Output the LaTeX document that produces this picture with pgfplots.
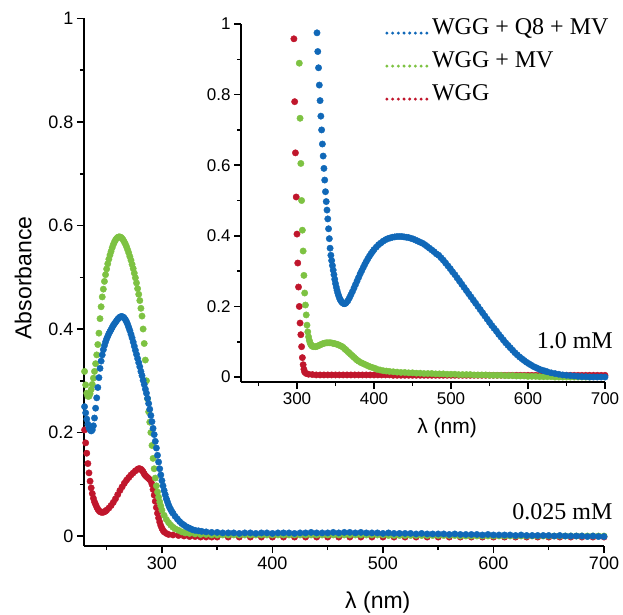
\documentclass[border=0pt]{standalone}
\usepackage{fontspec}
\setmainfont{Liberation Serif}
\setsansfont{Liberation Sans}
\usepackage{pgfplots}
\pgfplotsset{compat=1.18}
\usepackage{pgfplotstable}
\definecolor{cblue}{RGB}{16,104,184}
\definecolor{cgreen}{RGB}{125,194,66}
\definecolor{cred}{RGB}{192,22,44}

% ---------- main plot (0.025 mM) ----------
\pgfplotstableread[row sep=\\]{x y\\
230 0.250\\231 0.238\\232 0.226\\233 0.216\\234 0.209\\235 0.205\\236 0.203\\237 0.205\\238 0.213\\239 0.228\\
240 0.247\\241 0.267\\242 0.287\\243 0.306\\244 0.324\\245 0.338\\246 0.350\\247 0.360\\248 0.368\\249 0.375\\
250 0.381\\251 0.386\\252 0.391\\253 0.395\\254 0.399\\255 0.403\\256 0.407\\257 0.410\\258 0.413\\259 0.416\\
260 0.419\\261 0.421\\262 0.423\\263 0.424\\264 0.424\\265 0.423\\266 0.421\\267 0.418\\268 0.414\\269 0.409\\
270 0.403\\271 0.397\\272 0.390\\273 0.383\\274 0.375\\275 0.367\\276 0.359\\277 0.351\\278 0.343\\279 0.335\\
280 0.327\\281 0.318\\282 0.310\\283 0.301\\284 0.293\\285 0.284\\286 0.276\\287 0.266\\288 0.256\\289 0.245\\
290 0.233\\291 0.221\\292 0.208\\293 0.196\\294 0.183\\295 0.170\\296 0.156\\297 0.143\\298 0.130\\299 0.118\\
300 0.107\\301 0.097\\302 0.088\\303 0.080\\304 0.072\\305 0.066\\306 0.060\\307 0.055\\308 0.051\\309 0.047\\
310 0.044\\312 0.038\\314 0.033\\316 0.028\\318 0.024\\320 0.021\\322 0.018\\324 0.016\\326 0.014\\328 0.012\\
330 0.011\\333 0.010\\336 0.009\\340 0.008\\345 0.007\\350 0.007\\355 0.006\\360 0.006\\365 0.006\\370 0.005\\
375 0.006\\380 0.006\\385 0.005\\390 0.006\\395 0.006\\400 0.005\\405 0.006\\410 0.006\\415 0.006\\420 0.005\\
425 0.006\\430 0.006\\435 0.007\\440 0.006\\445 0.006\\450 0.006\\455 0.007\\460 0.006\\465 0.007\\470 0.007\\
475 0.006\\480 0.007\\485 0.006\\490 0.006\\495 0.006\\500 0.005\\505 0.006\\510 0.005\\515 0.005\\520 0.005\\
525 0.005\\530 0.004\\535 0.005\\540 0.004\\545 0.004\\550 0.004\\555 0.004\\560 0.003\\565 0.004\\570 0.003\\
575 0.003\\580 0.003\\585 0.003\\590 0.002\\595 0.003\\600 0.002\\605 0.002\\610 0.002\\615 0.002\\620 0.001\\
625 0.002\\630 0.001\\635 0.001\\640 0.001\\645 0.001\\650 0.001\\655 0.000\\660 0.001\\665 0.000\\670 0.000\\
675 0.000\\680 0.000\\685 -0.001\\690 0.000\\695 -0.001\\700 -0.001\\
}\mainblue

\pgfplotstableread[row sep=\\]{x y\\
230 0.318\\231 0.292\\232 0.276\\233 0.270\\234 0.270\\235 0.275\\236 0.283\\237 0.293\\238 0.305\\239 0.318\\
240 0.333\\241 0.350\\242 0.370\\243 0.392\\244 0.420\\245 0.443\\246 0.462\\247 0.477\\248 0.492\\249 0.505\\
250 0.516\\251 0.526\\252 0.535\\253 0.543\\254 0.550\\255 0.557\\256 0.563\\257 0.568\\258 0.572\\259 0.575\\
260 0.577\\261 0.578\\262 0.578\\263 0.577\\264 0.575\\265 0.572\\266 0.568\\267 0.564\\268 0.559\\269 0.553\\
270 0.547\\271 0.540\\272 0.533\\273 0.525\\274 0.517\\275 0.508\\276 0.499\\277 0.489\\278 0.478\\279 0.467\\
280 0.455\\281 0.440\\282 0.425\\283 0.400\\284 0.372\\285 0.340\\286 0.300\\287 0.265\\288 0.240\\289 0.220\\
290 0.200\\291 0.175\\292 0.150\\293 0.130\\294 0.112\\295 0.097\\296 0.085\\297 0.075\\298 0.066\\299 0.058\\
300 0.050\\302 0.040\\304 0.032\\306 0.026\\308 0.021\\310 0.017\\312 0.014\\315 0.011\\318 0.008\\321 0.006\\
325 0.005\\330 0.004\\335 0.003\\340 0.003\\345 0.002\\350 0.002\\355 0.002\\360 0.002\\365 0.002\\370 0.002\\
375 0.002\\380 0.002\\385 0.002\\390 0.002\\395 0.002\\400 0.002\\405 0.002\\410 0.002\\415 0.002\\420 0.002\\
425 0.002\\430 0.002\\435 0.002\\440 0.002\\445 0.002\\450 0.002\\455 0.002\\460 0.002\\465 0.002\\470 0.002\\
475 0.002\\480 0.002\\485 0.002\\490 0.002\\495 0.002\\500 0.002\\505 0.001\\510 0.001\\515 0.001\\520 0.001\\
525 0.001\\530 0.001\\535 0.001\\540 0.001\\545 0.001\\550 0.001\\555 0.001\\560 0.001\\565 0.001\\570 0.000\\
575 0.000\\580 0.000\\585 0.000\\590 0.000\\595 0.000\\600 0.000\\605 0.000\\610 0.000\\615 0.000\\620 0.000\\
625 0.000\\630 0.000\\635 0.000\\640 0.000\\645 0.000\\650 0.000\\655 0.000\\660 0.000\\665 0.000\\670 0.000\\
675 0.000\\680 0.000\\685 0.000\\690 0.000\\695 0.000\\700 0.000\\
}\maingreen

\pgfplotstableread[row sep=\\]{x y\\
230 0.205\\231 0.180\\232 0.160\\233 0.140\\234 0.122\\235 0.106\\236 0.093\\237 0.082\\238 0.073\\239 0.066\\
240 0.061\\241 0.056\\242 0.052\\243 0.049\\244 0.047\\245 0.046\\246 0.046\\247 0.046\\248 0.047\\249 0.048\\
250 0.050\\252 0.054\\254 0.059\\256 0.065\\258 0.072\\260 0.080\\262 0.088\\264 0.095\\266 0.102\\268 0.108\\
270 0.113\\272 0.118\\274 0.122\\276 0.126\\278 0.129\\279 0.130\\280 0.130\\281 0.129\\282 0.127\\283 0.124\\
284 0.120\\285 0.117\\286 0.115\\287 0.113\\288 0.111\\289 0.109\\290 0.106\\291 0.100\\292 0.090\\293 0.079\\
294 0.067\\295 0.055\\296 0.044\\297 0.035\\298 0.027\\299 0.020\\300 0.015\\301 0.011\\302 0.008\\304 0.005\\
306 0.003\\310 0.002\\315 0.001\\320 0.000\\325 -0.001\\330 -0.001\\335 -0.002\\340 -0.002\\345 -0.002\\350 -0.002\\
360 -0.002\\370 -0.002\\380 -0.002\\390 -0.002\\400 -0.002\\410 -0.002\\420 -0.002\\430 -0.002\\440 -0.002\\450 -0.002\\
460 -0.002\\470 -0.002\\480 -0.002\\490 -0.002\\500 -0.002\\510 -0.002\\520 -0.002\\530 -0.002\\540 -0.002\\550 -0.002\\
560 -0.002\\570 -0.002\\580 -0.002\\590 -0.002\\600 -0.002\\610 -0.002\\620 -0.002\\630 -0.002\\640 -0.002\\650 -0.002\\
660 -0.002\\670 -0.002\\680 -0.002\\690 -0.002\\700 -0.002\\
}\mainred

% ---------- inset (1.0 mM) ----------
\pgfplotstableread[row sep=\\]{x y\\
326 0.975\\327 0.922\\328 0.876\\329 0.827\\330 0.783\\331 0.739\\332 0.700\\333 0.660\\334 0.626\\335 0.591\\
336 0.558\\337 0.525\\338 0.497\\339 0.473\\340 0.448\\341 0.420\\342 0.392\\343 0.365\\344 0.345\\345 0.330\\
346 0.316\\347 0.303\\348 0.290\\349 0.277\\350 0.265\\351 0.255\\352 0.246\\353 0.238\\354 0.231\\355 0.225\\
356 0.220\\357 0.216\\358 0.213\\359 0.211\\360 0.209\\361 0.208\\362 0.208\\363 0.209\\364 0.211\\366 0.216\\
368 0.224\\370 0.233\\372 0.242\\374 0.252\\376 0.262\\378 0.272\\380 0.282\\382 0.292\\384 0.301\\386 0.310\\
388 0.319\\390 0.327\\392 0.335\\394 0.342\\396 0.349\\398 0.355\\400 0.361\\403 0.368\\406 0.375\\409 0.380\\
412 0.385\\415 0.389\\418 0.392\\421 0.394\\424 0.396\\427 0.397\\430 0.398\\433 0.398\\436 0.398\\439 0.397\\
442 0.396\\445 0.395\\448 0.393\\451 0.391\\454 0.388\\457 0.385\\460 0.382\\463 0.379\\466 0.375\\469 0.370\\
472 0.365\\475 0.360\\478 0.355\\481 0.349\\484 0.345\\487 0.338\\490 0.331\\493 0.323\\496 0.315\\499 0.307\\
502 0.298\\505 0.290\\508 0.281\\511 0.272\\514 0.263\\517 0.254\\520 0.245\\523 0.236\\526 0.227\\529 0.218\\
532 0.209\\535 0.200\\538 0.191\\541 0.182\\544 0.173\\547 0.164\\550 0.155\\553 0.146\\556 0.138\\559 0.130\\
562 0.121\\565 0.113\\568 0.105\\571 0.097\\574 0.090\\577 0.083\\580 0.076\\583 0.069\\586 0.063\\589 0.057\\
592 0.052\\595 0.047\\598 0.042\\601 0.038\\604 0.034\\607 0.030\\610 0.027\\613 0.024\\616 0.021\\619 0.019\\
622 0.017\\625 0.015\\630 0.012\\635 0.010\\640 0.008\\645 0.006\\650 0.005\\655 0.004\\660 0.003\\665 0.002\\
670 0.001\\675 0.001\\680 0.000\\685 0.000\\690 0.000\\695 0.000\\700 0.000\\
}\insetblue

\pgfplotstableread[row sep=\\]{x y\\
303 0.889\\304 0.733\\305 0.605\\306 0.500\\307 0.416\\308 0.357\\309 0.288\\310 0.238\\311 0.204\\312 0.176\\
313 0.147\\314 0.128\\315 0.114\\316 0.104\\317 0.097\\318 0.092\\319 0.089\\320 0.087\\322 0.086\\324 0.086\\
326 0.087\\328 0.089\\330 0.091\\332 0.093\\334 0.095\\336 0.096\\338 0.097\\340 0.097\\342 0.097\\344 0.097\\
346 0.096\\348 0.095\\350 0.094\\352 0.093\\354 0.091\\356 0.089\\358 0.087\\360 0.084\\362 0.080\\364 0.076\\
366 0.072\\368 0.068\\370 0.064\\372 0.060\\374 0.056\\376 0.052\\378 0.048\\380 0.045\\383 0.041\\386 0.038\\
389 0.035\\392 0.032\\395 0.029\\398 0.027\\401 0.025\\404 0.022\\408 0.020\\412 0.018\\416 0.017\\420 0.016\\
425 0.015\\430 0.014\\435 0.013\\440 0.013\\445 0.012\\450 0.012\\455 0.011\\460 0.011\\465 0.010\\470 0.010\\
475 0.010\\480 0.009\\485 0.009\\490 0.009\\495 0.008\\500 0.008\\505 0.008\\510 0.007\\515 0.007\\520 0.007\\
525 0.007\\530 0.006\\535 0.006\\540 0.006\\545 0.006\\550 0.005\\555 0.005\\560 0.005\\565 0.005\\570 0.004\\
575 0.004\\580 0.004\\585 0.003\\590 0.003\\595 0.003\\600 0.002\\605 0.002\\610 0.002\\615 0.001\\620 0.001\\
625 0.001\\630 0.001\\635 0.000\\640 0.000\\645 0.000\\650 0.000\\655 0.000\\660 0.000\\665 0.000\\670 0.000\\
675 0.000\\680 0.000\\
}\insetgreen

\pgfplotstableread[row sep=\\]{x y\\
296 0.958\\297 0.780\\298 0.635\\299 0.510\\300 0.405\\301 0.323\\302 0.255\\303 0.200\\304 0.153\\305 0.120\\
306 0.086\\307 0.055\\308 0.035\\309 0.022\\310 0.014\\312 0.010\\315 0.008\\320 0.007\\325 0.006\\330 0.006\\
335 0.006\\340 0.006\\345 0.006\\350 0.006\\355 0.006\\360 0.006\\365 0.006\\370 0.006\\375 0.006\\380 0.006\\
385 0.006\\390 0.006\\395 0.006\\400 0.006\\405 0.006\\410 0.006\\415 0.006\\420 0.006\\425 0.005\\430 0.005\\
435 0.005\\440 0.005\\445 0.005\\450 0.005\\455 0.005\\460 0.005\\465 0.005\\470 0.005\\475 0.005\\480 0.005\\
485 0.005\\490 0.005\\495 0.005\\500 0.005\\505 0.005\\510 0.005\\515 0.005\\520 0.005\\525 0.005\\530 0.005\\
535 0.005\\540 0.005\\545 0.005\\550 0.005\\555 0.005\\560 0.005\\565 0.005\\570 0.005\\575 0.005\\580 0.005\\
585 0.005\\590 0.005\\595 0.005\\600 0.005\\605 0.005\\610 0.005\\615 0.005\\620 0.005\\625 0.005\\630 0.005\\
635 0.005\\640 0.005\\645 0.005\\650 0.005\\655 0.005\\660 0.005\\665 0.005\\670 0.005\\675 0.005\\680 0.005\\
685 0.005\\690 0.005\\695 0.005\\700 0.005\\
}\insetred

\pgfplotsset{
  spec/.style={
    scale only axis,
    axis x line*=bottom, axis y line*=left,
    xtick pos=left, ytick pos=left,
    tick align=outside,
    major tick length=7pt, minor tick length=4pt,
    /pgf/number format/assume math mode=true,
    clip=false,
    tick style={black, line width=1.5pt},
  },
  dots/.style={only marks, mark=*, mark size=3.2pt, forget plot},
}

\begin{document}
\begin{tikzpicture}
\useasboundingbox (0,0) rectangle (623pt,614pt);

\begin{axis}[spec,
  at={(84pt,68pt)}, anchor=south west,
  width=520pt, height=527.5pt,
  xmin=229.5, xmax=700, ymin=-0.0193, ymax=1,
  axis line style={-, line width=2.6pt},
  xtick={300,400,500,600,700}, minor xtick={250,350,450,550,650},
  ytick={0,0.2,0.4,0.6,0.8,1}, minor ytick={0.1,0.3,0.5,0.7,0.9},
  tick label style={font=\sffamily\fontsize{18}{18}\selectfont},
  xlabel={λ (nm)}, ylabel={Absorbance},
  label style={font=\sffamily\fontsize{23}{23}\selectfont},
  xlabel style={at={(axis description cs:0.565,-0.108)}, anchor=center},
  ylabel style={at={(axis description cs:-0.117,0.508)}, anchor=center},
  legend image code/.code={\draw[#1, line width=3.3pt, line cap=round, dash pattern=on 0pt off 5.7pt] (0pt,0pt) -- (41pt,0pt);},
  legend style={at={(axis description cs:0.579,1.004)}, anchor=north west, draw=none, fill=none,
    font=\fontsize{24}{24}\selectfont, inner sep=0pt, row sep=0pt,
    nodes={inner xsep=2.5pt, inner ysep=0pt, text height=18pt, text depth=15pt}},
  legend cell align=left,
]
\addlegendimage{cblue}\addlegendentry{WGG + Q8 + MV}
\addlegendimage{cgreen}\addlegendentry{WGG + MV}
\addlegendimage{cred}\addlegendentry{WGG}
\addplot[dots, cred] table {\mainred};
\addplot[dots, cgreen] table {\maingreen};
\addplot[dots, cblue] table {\mainblue};
\node[anchor=base east, inner sep=0pt, font=\fontsize{24}{24}\selectfont] at (axis cs:707.8,0.031) {0.025 mM};
\end{axis}

\begin{axis}[spec,
  at={(241pt,232pt)}, anchor=south west,
  width=364pt, height=358pt,
  xmin=227.3, xmax=700, ymin=-0.014, ymax=1,
  axis line style={-, line width=2pt},
  xtick={300,400,500,600,700}, minor xtick={250,350,450,550,650},
  ytick={0,0.2,0.4,0.6,0.8,1}, minor ytick={0.1,0.3,0.5,0.7,0.9},
  tick label style={font=\sffamily\fontsize{17}{17}\selectfont},
  xlabel={λ (nm)},
  xlabel style={font=\sffamily\fontsize{21}{21}\selectfont, at={(axis description cs:0.566,-0.13)}, anchor=center},
]
\addplot[dots, cred] table {\insetred};
\addplot[dots, cgreen] table {\insetgreen};
\addplot[dots, cblue] table {\insetblue};
\node[anchor=base east, inner sep=0pt, font=\fontsize{24}{24}\selectfont] at (axis cs:710.4,0.082) {1.0 mM};
\end{axis}
\end{tikzpicture}
\end{document}
